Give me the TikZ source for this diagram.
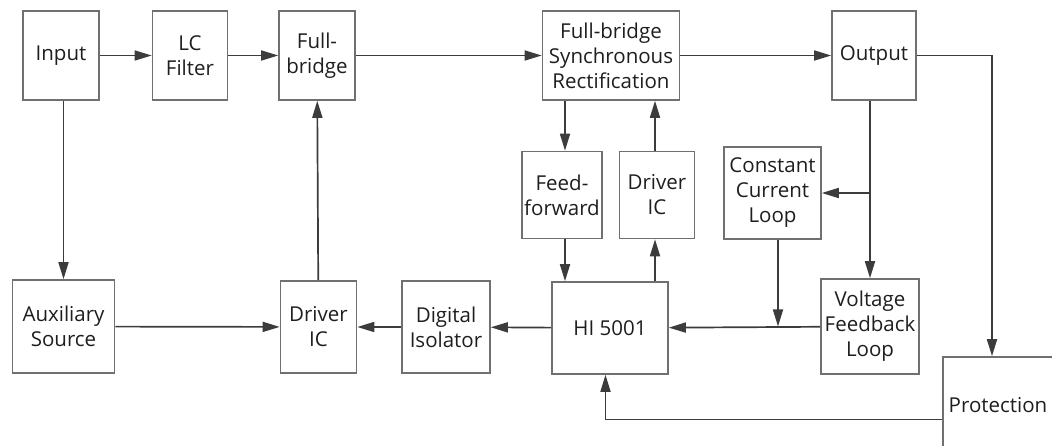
\documentclass[tikz,border=0pt]{standalone}
\usepackage{fontspec}
\setmainfont{Open Sans}
\usetikzlibrary{arrows.meta,positioning,calc}
\definecolor{boxgray}{HTML}{707070}
\definecolor{linegray}{HTML}{3C3C3C}
\definecolor{textgray}{HTML}{1E1E1E}

\begin{document}
\begin{tikzpicture}[x=1pt,y=-1pt,>={Triangle[length=17pt,width=10pt]},
  blk/.style={draw=boxgray,line width=1.6pt,align=center,inner sep=0pt,text=textgray,
    font=\fontsize{20.5}{25}\selectfont},
  conn/.style={->,draw=linegray,line width=1.7pt},
  wire/.style={draw=linegray,line width=1.7pt}]
\useasboundingbox (0,0) rectangle (1052,446);
\node[blk,minimum width=76pt,minimum height=89pt] (in) at (61,55.5) {Input};
\node[blk,minimum width=75pt,minimum height=89pt] (lc) at (190,55.5) {LC\\Filter};
\node[blk,minimum width=76pt,minimum height=89pt] (fb) at (317,55.5) {Full-\\bridge};
\node[blk,minimum width=137pt,minimum height=89pt] (sr) at (611,55.5) {Full-bridge\\Synchronous\\Rectification};
\node[blk,minimum width=84pt,minimum height=89pt] (out) at (874,55.5) {Output};
\node[blk,minimum width=80pt,minimum height=87pt] (ff) at (562,195) {Feed-\\forward};
\node[blk,minimum width=75pt,minimum height=87pt] (drvB) at (657,195) {Driver\\IC};
\node[blk,minimum width=97pt,minimum height=92pt] (ccl) at (772.5,193) {Constant\\Current\\Loop};
\node[blk,minimum width=102pt,minimum height=93pt] (aux) at (63.5,326.5) {Auxiliary\\Source};
\node[blk,minimum width=76pt,minimum height=92pt] (drvA) at (318.5,327) {Driver\\IC};
\node[blk,minimum width=88pt,minimum height=92pt] (iso) at (446,327) {Digital\\Isolator};
\node[blk,minimum width=116pt,minimum height=92pt] (hi) at (610,328) {HI 5001};
\node[blk,minimum width=98pt,minimum height=95pt] (vfl) at (870,326.5) {Voltage\\Feedback\\Loop};
\node[blk,minimum width=110pt,minimum height=96pt] (prot) at (998,405) {Protection};

\draw[conn] (in) -- (lc);
\draw[conn] (lc) -- (fb);
\draw[conn] (fb) -- (sr);
\draw[conn] (sr) -- (out);
\draw[conn] (in.south -| aux.north) -- (aux);
\draw[conn] (drvA) -- (fb);
\draw[conn] (aux) -- (drvA);
\draw[conn] (iso) -- (drvA);
\draw[conn] (hi) -- (iso);
\draw[conn] ([xshift=3pt]ff.north |- sr.south) -- ([xshift=3pt]ff.north);
\draw[conn] ([xshift=3pt]ff.south) -- ([xshift=3pt]ff.south |- hi.north);
\draw[conn] ([xshift=-2pt]drvB.south |- hi.north) -- ([xshift=-2pt]drvB.south);
\draw[conn] ([xshift=-2pt]drvB.north) -- ([xshift=-2pt]drvB.north |- sr.south);
\draw[conn] (out.south -| vfl.north) -- (vfl.north);
\draw[conn] (vfl.north |- ccl.east) -- (ccl.east);
\draw[conn] (vfl) -- (hi);
\coordinate (jn) at ([xshift=5.5pt]ccl.south |- vfl.west);
\draw[conn] ([xshift=5.5pt]ccl.south) -- (jn);
\draw[conn] (out.east) -| ([xshift=-6pt]prot.north);
\draw[conn] (prot.west |- 0,419.5) -| ([xshift=-4.5pt]hi.south);
\end{tikzpicture}
\end{document}
